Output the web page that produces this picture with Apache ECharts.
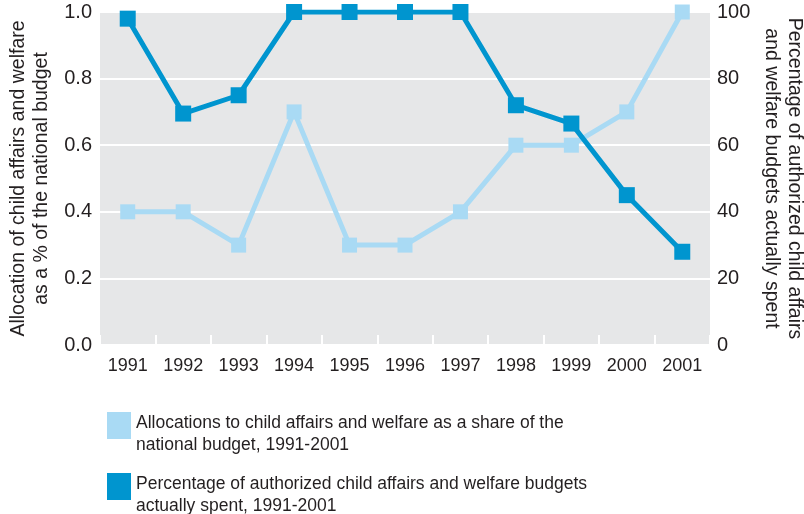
<!DOCTYPE html>
<html><head><meta charset="utf-8">
<script src="https://cdn.jsdelivr.net/npm/echarts@6/dist/echarts.min.js"></script>
<style>html,body{margin:0;padding:0;background:#fff}#c{width:804px;height:514px}</style>
</head><body><div id="c"></div>
<script>
const years = ['1991','1992','1993','1994','1995','1996','1997','1998','1999','2000','2001'];
const allocationShare = [0.4,0.4,0.3,0.7,0.3,0.3,0.4,0.6,0.6,0.7,1.0];
const percentSpent = [98,69.5,75,100,100,100,100,72,66.5,45,28];
const leftTicks = [0,0.2,0.4,0.6,0.8,1.0];
const rightTicks = [0,20,40,60,80,100];
const seriesNames = ['Allocations to child affairs and welfare as a share of the\nnational budget, 1991-2001',
  'Percentage of authorized child affairs and welfare budgets\nactually spent, 1991-2001'];

const FONT = '"Liberation Sans", Arial, sans-serif';
const TXT = '#231F20';
const LIGHT = '#A9DAF4';
const DARK = '#0095CF';

// legend swatch sits at the top of a taller (invisible) icon box so it aligns with the first text line
const SWATCH = 'path://M0,0L24,0L24,27L0,27Z M0,45L0.01,45Z';
const legendBase = {
  orient:'vertical',left:107,itemWidth:24,itemHeight:45,
  icon:SWATCH,padding:0,
  textStyle:{fontFamily:FONT,fontSize:17.5,color:TXT,lineHeight:22}
};

const chart = echarts.init(document.getElementById('c'));
chart.setOption({
  animation:false,
  textStyle:{fontFamily:FONT,color:TXT},
  grid:{left:100,right:94,top:12,height:333,show:true,backgroundColor:'#E6E7E8',borderWidth:0,containLabel:false,outerBoundsMode:'none'},
  legend:[
    Object.assign({},legendBase,{top:412,data:[seriesNames[0]]}),
    Object.assign({},legendBase,{top:473,data:[seriesNames[1]]})
  ],
  xAxis:{
    type:'category',data:years,boundaryGap:true,
    axisLine:{show:false},
    axisTick:{show:true,inside:true,length:10,lineStyle:{color:'#fff',width:2}},
    axisLabel:{fontFamily:FONT,fontSize:18,color:TXT,margin:12}
  },
  yAxis:[{
    type:'value',min:leftTicks[0],max:leftTicks[leftTicks.length-1],interval:0.2,position:'left',
    axisLine:{show:false},axisTick:{show:false},
    axisLabel:{fontFamily:FONT,fontSize:20,color:TXT,margin:8,formatter:v=>v.toFixed(1)},
    splitLine:{show:true,lineStyle:{color:'#fff',width:2}},
    name:'Allocation of child affairs and welfare\nas a % of the national budget',
    nameLocation:'middle',nameRotate:90,nameGap:47,
    nameTextStyle:{fontFamily:FONT,fontSize:19.5,color:TXT,lineHeight:23}
  },{
    type:'value',min:rightTicks[0],max:rightTicks[rightTicks.length-1],interval:20,position:'right',
    axisLine:{show:false},axisTick:{show:false},
    axisLabel:{fontFamily:FONT,fontSize:20,color:TXT,margin:7},
    splitLine:{show:false},
    name:'Percentage of authorized child affairs\nand welfare budgets actually spent',
    nameLocation:'middle',nameRotate:-90,nameGap:50,nameMoveOverlap:false,
    nameTextStyle:{fontFamily:FONT,fontSize:19.5,color:TXT,lineHeight:23}
  }],
  series:[{
    name:seriesNames[0],type:'line',yAxisIndex:0,data:allocationShare,
    symbol:'rect',symbolSize:15,showSymbol:true,
    lineStyle:{color:LIGHT,width:5},itemStyle:{color:LIGHT},z:2
  },{
    name:seriesNames[1],type:'line',yAxisIndex:1,data:percentSpent,
    symbol:'rect',symbolSize:16,showSymbol:true,
    lineStyle:{color:DARK,width:5},itemStyle:{color:DARK},z:3
  }]
});
</script></body></html>
